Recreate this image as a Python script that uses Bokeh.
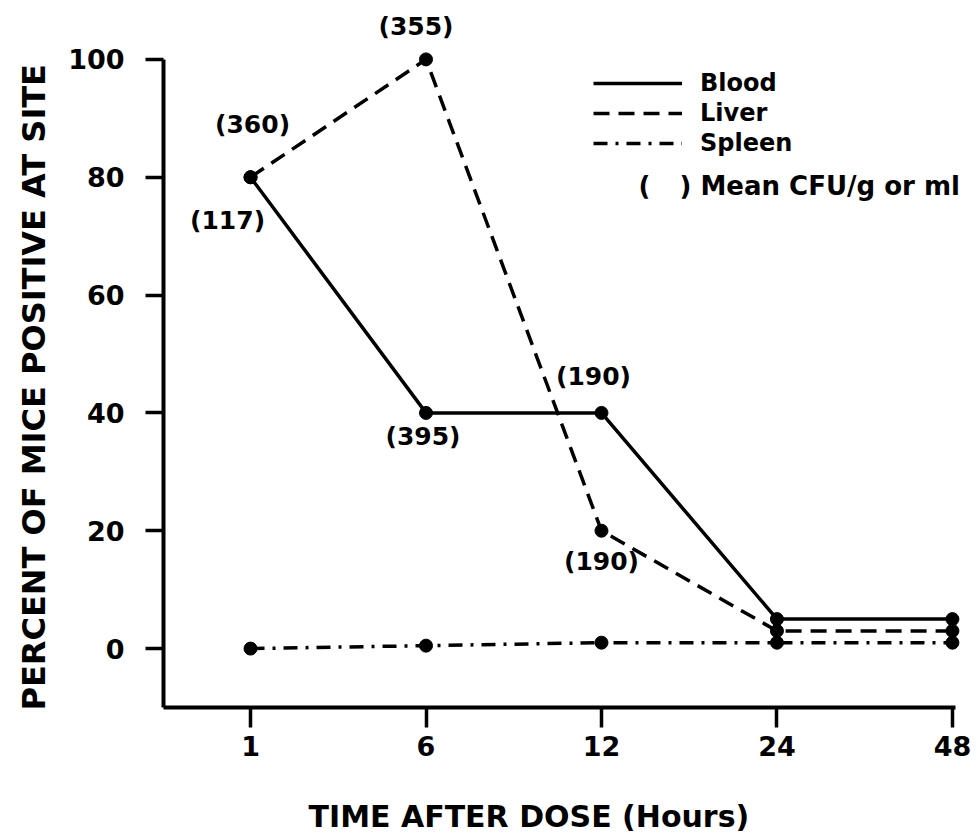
from bokeh.plotting import figure
from bokeh.models import (Range1d, FixedTicker, ColumnDataSource, Legend, LegendItem,
                          Label, Title, LinearAxis)
from bokeh.core.properties import value
from bokeh.embed import file_html
from bokeh.resources import INLINE

# ---- data -------------------------------------------------------------
hours = ["1", "6", "12", "24", "48"]
blood = [80, 40, 40, 5, 5]
liver = [80, 100, 20, 3, 3]
spleen = [0, 0.5, 1, 1, 1]
y_ticks = [0, 20, 40, 60, 80, 100]

# mean CFU annotations (series, hour, text)
cfu_series = ["liver", "blood", "liver", "blood", "blood", "liver"]
cfu_hour = ["1", "1", "6", "6", "12", "12"]
cfu_text = ["(360)", "(117)", "(355)", "(395)", "(190)", "(190)"]

x_title = "TIME AFTER DOSE (Hours)"
y_title = "PERCENT OF MICE POSITIVE AT SITE"

# ---- style --------------------------------------------------------------
FONT = "DejaVu Sans"
INK = "black"
cfu_dx = [2, -23, -10, -3, -8, 0]      # screen offsets of annotations
cfu_dy = [-53, 43, -33, 24, -36, 31]

xpos = list(range(len(hours)))
series = {"blood": blood, "liver": liver, "spleen": spleen}

p = figure(width=972, height=836,
           x_range=Range1d(-0.496, 4.103), y_range=Range1d(-10.0, 108.3),
           output_backend="svg", toolbar_location=None,
           min_border_left=163, min_border_right=2, min_border_top=10,
           min_border_bottom=129)
p.xgrid.visible = False
p.ygrid.visible = False
p.outline_line_color = None
p.background_fill_color = "white"
p.border_fill_color = "white"

r_blood = p.line(xpos, blood, line_color=INK, line_width=3.5)
r_liver = p.line(xpos, liver, line_color=INK, line_width=3.5, line_dash="16 9")
r_spleen = p.line(xpos, spleen, line_color=INK, line_width=3.5, line_dash="14 8 3 8")
for vals in (blood, liver, spleen):
    p.scatter(xpos, vals, size=13, fill_color=INK, line_color=INK)

# CFU labels
src = ColumnDataSource(dict(
    x=[hours.index(h) for h in cfu_hour],
    y=[series[s][hours.index(h)] for s, h in zip(cfu_series, cfu_hour)],
    text=cfu_text, dx=cfu_dx, dy=cfu_dy))
p.text(x="x", y="y", text="text", x_offset="dx", y_offset="dy", source=src,
       text_align="center", text_baseline="middle", text_color=INK,
       text_font=value(FONT), text_font_size="25px", text_font_style="bold")

# axes
xa = p.xaxis[0]
xa.ticker = FixedTicker(ticks=xpos)
xa.major_label_overrides = {i: h for i, h in enumerate(hours)}
xa.bounds = (-0.496, 4.02)
ya = p.yaxis[0]
ya.ticker = FixedTicker(ticks=y_ticks)
ya.bounds = (-10.0, 100)
for ax in (xa, ya):
    ax.axis_line_width = 4
    ax.axis_line_color = INK
    ax.major_tick_line_width = 3.5
    ax.major_tick_line_color = INK
    ax.major_tick_in = 0
    ax.minor_tick_line_color = None
    ax.major_label_text_font = FONT
    ax.major_label_text_font_style = "bold"
    ax.major_label_text_font_size = "27px"
    ax.major_label_text_color = INK
xa.major_tick_out = 20
xa.major_label_standoff = 8
ya.major_tick_out = 18
ya.major_label_standoff = 21
ya.major_label_orientation = "horizontal"

# blank spacer band between tick labels and the x title
spacer = LinearAxis(ticker=FixedTicker(ticks=[xpos[0]]), axis_line_color=None,
                    major_tick_line_color="white", minor_tick_line_color=None,
                    major_label_text_color=None,
                    major_tick_in=0, major_tick_out=38, minor_tick_out=0)
p.add_layout(spacer, "below")

# axis titles
p.add_layout(Title(text=x_title, align="left", offset=145, standoff=0,
                   text_font=FONT, text_font_size="30px", text_font_style="bold",
                   text_color=INK), "below")
p.add_layout(Title(text=y_title, align="left", offset=-3, standoff=25,
                   text_font=FONT, text_font_size="32px", text_font_style="bold",
                   text_color=INK), "left")

# legend
legend = Legend(items=[LegendItem(label="Blood", renderers=[r_blood]),
                       LegendItem(label="Liver", renderers=[r_liver]),
                       LegendItem(label="Spleen", renderers=[r_spleen])],
                location=(430, 549), glyph_width=89, glyph_height=30,
                label_height=30, label_standoff=18, spacing=0, padding=0, margin=0,
                border_line_alpha=0, background_fill_alpha=0,
                label_text_font=FONT, label_text_font_size="24px",
                label_text_font_style="bold", label_text_color=INK)
p.add_layout(legend)
note_style = dict(x_units="screen", y_units="screen", text_align="left",
                  text_baseline="middle", text_font=FONT, text_font_size="26px",
                  text_font_style="bold", text_color=INK)
p.add_layout(Label(x=475, y=522, text="(", **note_style))
p.add_layout(Label(x=516, y=522, text=") Mean CFU/g or ml", **note_style))

open("out.html", "w").write(file_html(p, INLINE))
